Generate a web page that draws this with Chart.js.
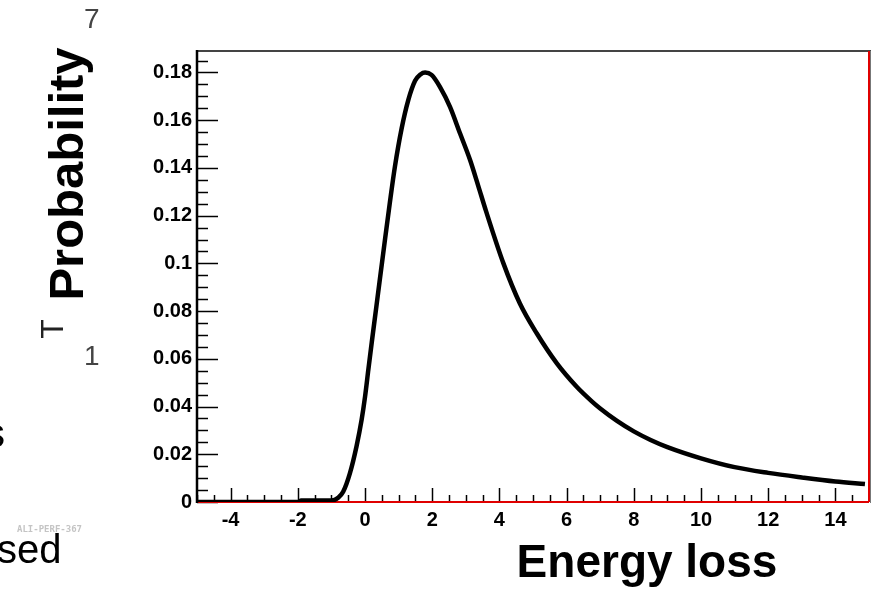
<!DOCTYPE html>
<html>
<head>
<meta charset="utf-8">
<script src="https://cdn.jsdelivr.net/npm/chart.js@4/dist/chart.umd.min.js"></script>
<style>
  html, body { margin: 0; padding: 0; background: #ffffff; }
  #wrap { position: relative; width: 875px; height: 592px; }
  canvas { display: block; }
</style>
</head>
<body>
<div id="wrap"><canvas id="c" width="875" height="592"></canvas></div>
<script>
// ---- data ----
const energyLoss = [-5, -4, -3, -2, -1.9, -1.5, -1.0, -0.8, -0.65, -0.45, -0.25, -0.1, 0, 0.1, 0.2, 0.33, 0.43, 0.6, 0.74, 0.89, 1.09, 1.29, 1.49, 1.65, 1.79, 1.98, 2.23, 2.53, 2.83, 3.13, 3.37, 3.6, 4.12, 4.61, 5.11, 5.71, 6.3, 6.75, 7.0, 7.5, 8.0, 8.5, 9, 10, 11, 12, 13, 14, 14.88];
const probability = [0, 0, 0, 0, 0.0006, 0.0006, 0.0006, 0.0018, 0.0043, 0.012, 0.0235, 0.0345, 0.044, 0.0555, 0.0668, 0.081, 0.092, 0.1105, 0.1255, 0.1405, 0.1565, 0.1685, 0.1765, 0.1792, 0.18, 0.179, 0.174, 0.1656, 0.1544, 0.1432, 0.1325, 0.122, 0.1, 0.0832, 0.0707, 0.0581, 0.0483, 0.0422, 0.0392, 0.034, 0.0296, 0.026, 0.023, 0.0183, 0.0146, 0.0122, 0.0103, 0.0086, 0.0075];
const xTickLabels = [-4, -2, 0, 2, 4, 6, 8, 10, 12, 14];
const yTickLabels = [0, 0.02, 0.04, 0.06, 0.08, 0.1, 0.12, 0.14, 0.16, 0.18];
const xTitle = "Energy loss";
const yTitle = "Probability";

const points = energyLoss.map((x, i) => ({ x: x, y: probability[i] }));

const frameAndTicks = {
  id: 'frameAndTicks',
  beforeDatasetsDraw(chart) {
    const ctx = chart.ctx;
    const a = chart.chartArea;
    const xs = chart.scales.x, ys = chart.scales.y;
    ctx.save();
    // ticks (inward)
    ctx.strokeStyle = '#000';
    ctx.lineWidth = 1.5;
    for (let v = -5; v <= 15.001; v += 0.5) {
      const px = Math.round(xs.getPixelForValue(v)) + 0.5;
      const major = Math.abs(v / 2 - Math.round(v / 2)) < 1e-6;
      const len = major ? 14 : 7;
      ctx.beginPath(); ctx.moveTo(px, a.bottom); ctx.lineTo(px, a.bottom - len); ctx.stroke();
    }
    for (let k = 0; k <= 37; k++) {
      const v = k * 0.005;
      const py = Math.round(ys.getPixelForValue(v)) + 0.5;
      const major = k % 4 === 0;
      const len = major ? 21 : 11;
      ctx.beginPath(); ctx.moveTo(a.left, py); ctx.lineTo(a.left + len, py); ctx.stroke();
    }
    // frame
    ctx.lineWidth = 2;
    ctx.strokeStyle = '#444';
    ctx.beginPath(); ctx.moveTo(a.left, a.top); ctx.lineTo(a.right + 2, a.top); ctx.stroke();
    ctx.lineWidth = 1;
    ctx.strokeStyle = '#777';
    ctx.beginPath(); ctx.moveTo(a.right + 1.5, a.top); ctx.lineTo(a.right + 1.5, a.bottom + 1); ctx.stroke();
    ctx.lineWidth = 2;
    ctx.strokeStyle = '#e00000';
    ctx.beginPath(); ctx.moveTo(a.right, a.top); ctx.lineTo(a.right, a.bottom); ctx.stroke();
    ctx.beginPath(); ctx.moveTo(a.left, a.bottom); ctx.lineTo(a.right, a.bottom); ctx.stroke();
    ctx.lineWidth = 2.5;
    ctx.strokeStyle = '#000';
    ctx.beginPath(); ctx.moveTo(a.left, a.top - 1); ctx.lineTo(a.left, a.bottom + 1); ctx.stroke();
    ctx.restore();
  },
  afterDraw(chart) {
    const ctx = chart.ctx;
    ctx.save();
    // axis titles
    ctx.fillStyle = '#000';
    ctx.font = 'bold 46px "Liberation Sans", Arial, sans-serif';
    ctx.textAlign = 'center';
    ctx.textBaseline = 'alphabetic';
    ctx.fillText(xTitle, 647, 577);
    ctx.save();
    ctx.translate(83, 174);
    ctx.rotate(-Math.PI / 2);
    ctx.font = 'bold 49px "Liberation Sans", Arial, sans-serif';
    ctx.fillText(yTitle, 0, 0);
    ctx.restore();
    // background slide fragments
    ctx.textAlign = 'left';
    ctx.fillStyle = '#444';
    ctx.font = '28px "Liberation Sans", Arial, sans-serif';
    ctx.fillText('7', 84, 28);
    ctx.fillText('1', 84, 365);
    ctx.save();
    ctx.translate(63, 329);
    ctx.rotate(-Math.PI / 2);
    ctx.textAlign = 'center';
    ctx.fillStyle = '#222';
    ctx.font = '32px "Liberation Sans", Arial, sans-serif';
    ctx.fillText('T', 0, 0);
    ctx.restore();
    ctx.fillStyle = '#000';
    ctx.font = '40px "Liberation Sans", Arial, sans-serif';
    ctx.fillText('s', -15, 447);
    ctx.fillText('sed', -3, 563);
    ctx.fillStyle = '#c4c4c4';
    ctx.font = 'bold 9px "DejaVu Sans Mono", monospace';
    ctx.fillText('ALI-PERF-367', 17, 532);
    ctx.restore();
  }
};

new Chart(document.getElementById('c'), {
  type: 'scatter',
  data: {
    datasets: [{
      data: points,
      showLine: true,
      borderColor: '#000',
      borderWidth: 4.5,
      pointRadius: 0,
      cubicInterpolationMode: 'monotone',
      fill: false
    }]
  },
  options: {
    responsive: false,
    animation: false,
    events: [],
    layout: { padding: { top: 51, right: 6, left: 0, bottom: 0 } },
    plugins: { legend: { display: false }, tooltip: { enabled: false } },
    scales: {
      x: {
        type: 'linear',
        min: -5, max: 15,
        afterFit: (s) => { s.height = 90; },
        afterBuildTicks: (s) => { s.ticks = xTickLabels.map(v => ({ value: v })); },
        grid: { display: false, drawTicks: false },
        border: { display: false },
        ticks: {
          padding: 6,
          color: '#000',
          font: { family: '"Liberation Sans", Arial, sans-serif', size: 20, weight: 'bold' },
          maxRotation: 0,
          autoSkip: false,
          callback: (v) => String(v)
        }
      },
      y: {
        type: 'linear',
        min: 0, max: 0.189,
        afterFit: (s) => { s.width = 197; },
        afterBuildTicks: (s) => { s.ticks = yTickLabels.map(v => ({ value: v })); },
        grid: { display: false, drawTicks: false },
        border: { display: false },
        ticks: {
          padding: 5,
          color: '#000',
          font: { family: '"Liberation Sans", Arial, sans-serif', size: 20, weight: 'bold' },
          autoSkip: false,
          callback: (v) => String(parseFloat(Number(v).toFixed(3)))
        }
      }
    }
  },
  plugins: [frameAndTicks]
});
</script>
</body>
</html>
